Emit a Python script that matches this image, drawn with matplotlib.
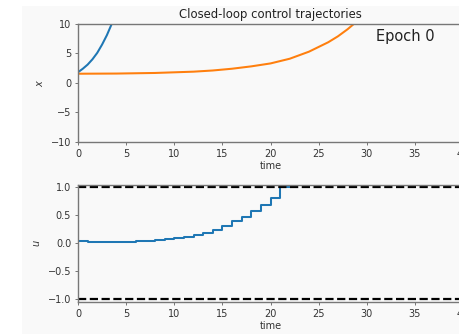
import matplotlib
matplotlib.use("Agg")
import matplotlib.pyplot as plt
from matplotlib.patches import Rectangle

# ---- data ----
t_blue = [0.0, 0.5, 1.0, 1.5, 2.0, 2.5, 3.0, 3.5, 3.7]
x_blue = [1.8, 2.4, 3.1, 4.0, 5.1, 6.5, 8.1, 10.0, 10.8]

t_orange = [0, 4, 8, 12, 14, 16, 18, 20, 22, 24, 26, 27, 28, 28.8, 29.2]
x_orange = [1.55, 1.58, 1.68, 1.9, 2.1, 2.4, 2.8, 3.3, 4.1, 5.3, 6.9, 7.9, 9.1, 10.2, 10.8]

t_u = list(range(0, 23))
u_vals = [0.035, 0.025, 0.022, 0.022, 0.023, 0.027, 0.035, 0.045, 0.058, 0.075,
          0.094, 0.115, 0.14, 0.18, 0.24, 0.31, 0.39, 0.47, 0.57, 0.69,
          0.815, 1.0, 1.0]

u_bounds = [1.0, -1.0]
x_ticks = [0, 5, 10, 15, 20, 25, 30, 35, 40]
x_yticks = [-10, -5, 0, 5, 10]
u_yticks = [-1.0, -0.5, 0.0, 0.5, 1.0]

title = "Closed-loop control trajectories"
epoch_label = "Epoch 0"

# ---- style ----
s = 0.7
bg = "#f9f9f9"
spine_c = "#777777"
plt.rcParams.update({
    "font.size": 10 * s,
    "xtick.labelsize": 10 * s,
    "ytick.labelsize": 10 * s,
    "xtick.major.size": 3.5 * s,
    "ytick.major.size": 3.5 * s,
    "xtick.major.pad": 3.5 * s,
    "ytick.major.pad": 3.5 * s,
    "xtick.major.width": 0.8 * s,
    "ytick.major.width": 0.8 * s,
    "xtick.color": "#555555",
    "ytick.color": "#555555",
    "xtick.labelcolor": "#333333",
    "ytick.labelcolor": "#333333",
    "axes.labelcolor": "#333333",
    "text.color": "#222222",
})

W, H = 459, 334
fig = plt.figure(figsize=(W / 100, H / 100), dpi=100, facecolor="white")
fig.patches.append(Rectangle((22 / W, 0), 1 - 22 / W, (H - 6) / H,
                             transform=fig.transFigure, facecolor=bg,
                             edgecolor="none", zorder=-10))

left = 78 / W
width = 385 / W
ax1 = fig.add_axes([left, (H - 141.7) / H, width, 117.7 / H])
ax2 = fig.add_axes([left, (H - 301.7) / H, width, 116.7 / H])

for ax in (ax1, ax2):
    ax.set_facecolor(bg)
    for sp in ax.spines.values():
        sp.set_color(spine_c)
        sp.set_linewidth(1.0)
    ax.set_xlim(0, 40)
    ax.set_xticks(x_ticks)
    ax.set_xlabel("time", labelpad=2)

ax1.plot(t_blue, x_blue, color="#1f77b4", lw=1.5 * s * 1.4)
ax1.plot(t_orange, x_orange, color="#ff7f0e", lw=1.5 * s * 1.4)
ax1.set_ylim(-10, 10)
ax1.set_yticks(x_yticks)
ax1.set_ylabel("$x$", labelpad=4)
ax1.set_title(title, fontsize=12 * s, pad=4)
ax1.text(31.0, 7.96, epoch_label, fontsize=15 * s, va="center", ha="left")

ax2.plot(t_u, u_vals, color="#1f77b4", lw=1.5 * s * 1.4, drawstyle="steps-post")
for b in u_bounds:
    ax2.axhline(b, color="black", ls="--", lw=1.6)
ax2.set_ylim(-1.04, 1.04)
ax2.set_yticks(u_yticks)
ax2.set_ylabel("$u$", labelpad=4)

fig.savefig("out.png", dpi=100, facecolor=fig.get_facecolor())
